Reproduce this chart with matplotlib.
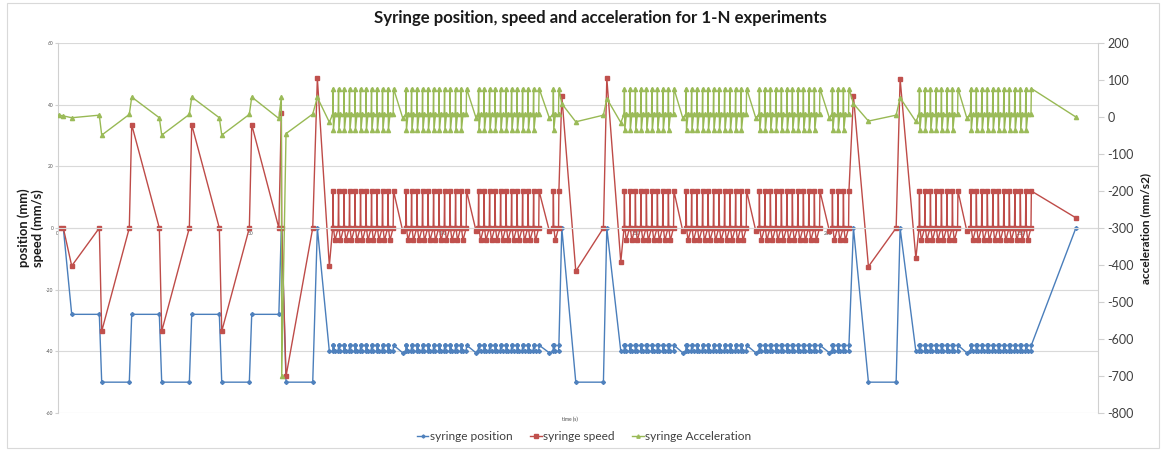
import numpy as np
import matplotlib.pyplot as plt
from matplotlib.patches import Rectangle

plt.rcParams['font.family'] = ['Lato', 'DejaVu Sans']
plt.rcParams['axes.unicode_minus'] = False

# single points outside the small-step blocks
# time (s), position (mm), speed (mm/s), acceleration (mm/s2)
key_time = [0.47, 1.51, 3.69, 10.85, 11.47, 18.63, 19.26, 26.42, 27.04, 34.21, 34.83,
            41.99, 42.62, 49.78, 50.40, 57.44, 58.08, 58.19, 59.30, 66.23, 67.43, 70.54,
            89.59, 108.62, 127.64,
            130.86, 134.49, 141.66, 142.54, 146.17,
            162.26, 181.21, 200.31,
            206.54, 210.43, 217.62, 218.65, 222.74,
            235.97, 264.26]
key_pos = [0, 0, -28, -28, -50, -50, -28, -28, -50, -50, -28,
           -28, -50, -50, -28, -28, 0, 0, -50, -50, 0, -40,
           -40.5, -40.5, -40.5,
           0, -50, -50, 0, -40,
           -40.5, -40.5, -40.5,
           0, -50, -50, 0, -40,
           -40.5, 0]
key_speed = [0, 0, -12.3, 0, -33.5, 0, 33.5, 0, -33.5, 0, 33.5,
             0, -33.5, 0, 33.5, 0, 37.3, 0, -48.1, 0, 48.6, -12.3,
             -1, -1, -1,
             42.8, -14, 0, 48.6, -11,
             -1, -1, -1,
             42.8, -12.5, 0, 48.4, -9.8,
             -1, 3.3]
key_acc = [5, 3, -2, 5, -49, 7, 54, -2, -49, 7, 54,
           -2, -49, 7, 54, -4, 54, -700, -45, 8, 53, -14,
           -3, -3, -3,
           36, -13, 5, 50, -15,
           -3, -3, -3,
           36, -11, 5, 52, -12,
           -3, 0]

# blocks of small steps: start time and number of steps
block_start = [71.40, 90.35, 109.17, 128.58, 147.01, 163.02, 182.04, 200.99, 223.57, 236.91]
block_steps = [12, 12, 12, 2, 10, 12, 12, 4, 8, 12]
step_period = 1.427
# one small step
step_offset = [0, 0.1, 0.2, 0.6]
step_pos = [-40, -38, -38, -40]
step_speed = [0, 12, 0, -4]
step_acc = [7, 77, -35, 7]


def build_series():
    t = list(key_time)
    p = list(key_pos)
    v = list(key_speed)
    a = list(key_acc)
    for start, n in zip(block_start, block_steps):
        for k in range(n):
            m = 2 if k == n - 1 else 4
            for j in range(m):
                t.append(start + k * step_period + step_offset[j])
                p.append(step_pos[j])
                v.append(step_speed[j])
                a.append(step_acc[j])
    order = np.argsort(t)
    return (np.array(t)[order], np.array(p)[order],
            np.array(v)[order], np.array(a)[order])


def main():
    t, p, v, a = build_series()

    W, H = 1161, 450
    fig = plt.figure(figsize=(W / 100, H / 100), dpi=100)
    ax = fig.add_axes([57.5 / W, 1 - 413 / H, (1098 - 57.5) / W, 370 / H])
    ax2 = ax.twinx()

    blue = '#4A7EBB'
    red = '#BE4B48'
    green = '#98B954'

    l1, = ax.plot(t, p, color=blue, lw=1.0, marker='D', ms=2.0, mfc='#4F81BD', mec='#4F81BD')
    l2, = ax.plot(t, v, color=red, lw=1.0, marker='s', ms=3.0, mfc='#C0504D', mec='#C0504D')
    l3, = ax2.plot(t, a, color=green, lw=1.0, marker='^', ms=3.0, mfc='#9BBB59', mec='#9BBB59')

    ax.set_xlim(0, 270)
    ax.set_ylim(-60, 60)
    ax2.set_ylim(-800, 200)
    ax.set_xticks(range(0, 251, 50))
    ax.set_yticks(range(-60, 61, 20))
    ax2.set_yticks(range(-800, 201, 100))

    ax.grid(axis='y', color='#d9d9d9', lw=0.8)
    ax.set_axisbelow(True)

    for s in ['top', 'right']:
        ax.spines[s].set_visible(False)
    ax.spines['left'].set_color('#d0d0d0')
    ax.spines['bottom'].set_position(('data', 0))
    ax.spines['bottom'].set_color('#d9d9d9')
    for s in ['top', 'left', 'bottom']:
        ax2.spines[s].set_visible(False)
    ax2.spines['right'].set_color('#d0d0d0')

    ax.tick_params(axis='y', labelsize=3.5, length=2, color='#d0d0d0', labelcolor='#595959', pad=1)
    ax.tick_params(axis='x', labelsize=3.5, length=0, labelcolor='#595959', pad=2)
    ax2.tick_params(axis='y', labelsize=9, length=4, color='#d0d0d0', labelcolor='#404040', pad=3)

    fig.text(600 / W, 1 - 18 / H, 'Syringe position, speed and acceleration for 1-N experiments',
             ha='center', va='center', fontsize=12.1, fontweight='bold', color='#1a1a1a')
    fig.text(31 / W, 1 - 228 / H, 'position (mm)\nspeed (mm/s)', rotation=90,
             ha='center', va='center', fontsize=9.3, fontweight='bold', color='#1a1a1a',
             linespacing=1.1, multialignment='center')
    fig.text(1146 / W, 1 - 228 / H, 'acceleration (mm/s2)', rotation=90,
             ha='center', va='center', fontsize=8.6, fontweight='bold', color='#1a1a1a')
    fig.text(570 / W, 1 - 419 / H, 'time (s)', ha='center', va='center', fontsize=3.5, color='#404040')

    fig.legend([l1, l2, l3], ['syringe position', 'syringe speed', 'syringe Acceleration'],
               loc='center', bbox_to_anchor=(584 / W, 1 - 437 / H), ncol=3, frameon=False,
               fontsize=8.6, handlelength=0.95, handletextpad=0.1, columnspacing=1.5,
               labelcolor='#404040', markerscale=0.8)

    fig.patches.append(Rectangle((7 / W, 2 / H), (1159 - 7) / W, 445 / H,
                                 transform=fig.transFigure, fill=False,
                                 ec='#d9d9d9', lw=0.8))

    fig.savefig('out.png', dpi=100)


if __name__ == "__main__":
    main()
